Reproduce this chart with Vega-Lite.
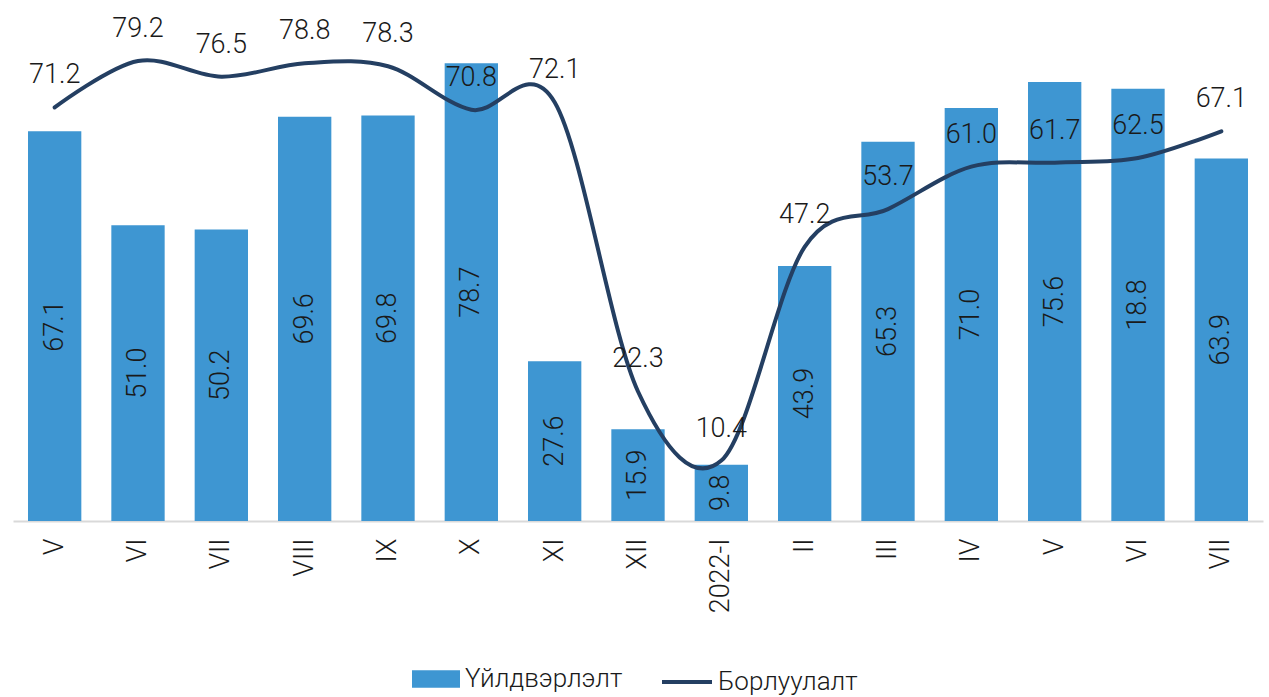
{
  "$schema": "https://vega.github.io/schema/vega-lite/v6.json",
  "width": 1250,
  "height": 521,
  "autosize": {"type": "none"},
  "padding": {"left": 13, "top": 0, "right": 6, "bottom": 176},
  "background": "white",
  "config": {
    "view": {"stroke": null},
    "font": "Roboto",
    "text": {"font": "Roboto"}
  },
  "data": {
    "values": [
      {"period": "2021-V", "prod": 67.1, "prodLabel": "67.1", "sales": 71.2},
      {"period": "2021-VI", "prod": 50.9, "prodLabel": "51.0", "sales": 79.2},
      {"period": "2021-VII", "prod": 50.2, "prodLabel": "50.2", "sales": 76.5},
      {"period": "2021-VIII", "prod": 69.6, "prodLabel": "69.6", "sales": 78.8},
      {"period": "2021-IX", "prod": 69.8, "prodLabel": "69.8", "sales": 78.3},
      {"period": "2021-X", "prod": 78.8, "prodLabel": "78.7", "sales": 70.8},
      {"period": "2021-XI", "prod": 27.5, "prodLabel": "27.6", "sales": 72.1},
      {"period": "2021-XII", "prod": 15.8, "prodLabel": "15.9", "sales": 22.3},
      {"period": "2022-I", "prod": 9.7, "prodLabel": "9.8", "sales": 10.4},
      {"period": "2022-II", "prod": 43.9, "prodLabel": "43.9", "sales": 47.2},
      {"period": "2022-III", "prod": 65.3, "prodLabel": "65.3", "sales": 53.7},
      {"period": "2022-IV", "prod": 71.1, "prodLabel": "71.0", "sales": 61.0},
      {"period": "2022-V", "prod": 75.6, "prodLabel": "75.6", "sales": 61.7},
      {"period": "2022-VI", "prod": 74.4, "prodLabel": "18.8", "sales": 62.5},
      {"period": "2022-VII", "prod": 62.4, "prodLabel": "63.9", "sales": 67.1}
    ]
  },
  "encoding": {
    "x": {
      "field": "period",
      "type": "nominal",
      "sort": null,
      "scale": {"paddingInner": 0.36, "paddingOuter": 0.18},
      "axis": {
        "title": null,
        "labelExpr": "datum.value == '2022-I' ? '2022-I' : split(datum.value, '-')[1]",
        "labelAngle": 270,
        "labelFont": "Roboto",
        "labelFontWeight": 300,
        "labelFontSize": 27,
        "labelColor": "#1a1a1a",
        "labelPadding": 17,
        "ticks": false,
        "tickSize": 0,
        "domainColor": "#d9d9d9",
        "domainWidth": 2,
        "grid": false
      }
    }
  },
  "layer": [
    {
      "mark": {"type": "bar", "color": "#3E96D2"},
      "encoding": {
        "y": {"field": "prod", "type": "quantitative", "scale": {"domain": [0, 89.7], "nice": false}, "axis": null},
        "color": {
          "datum": "Үйлдвэрлэлт",
          "scale": {"range": ["#3E96D2"]},
          "legend": {
            "title": null,
            "orient": "none",
            "legendX": 399,
            "legendY": 655,
            "symbolType": "M-1,-0.36L1,-0.36L1,0.36L-1,0.36Z",
            "symbolSize": 2304,
            "symbolStrokeWidth": 0,
            "labelFont": "Roboto",
            "labelFontWeight": 300,
            "labelFontSize": 26,
            "labelColor": "#1a1a1a",
            "labelOffset": 5,
            "labelLimit": 400
          }
        }
      }
    },
    {
      "transform": [{"calculate": "datum.prod / 2", "as": "mid"}],
      "mark": {"type": "text", "angle": 270, "align": "center", "baseline": "middle", "font": "Roboto", "fontWeight": 300, "fontSize": 27, "color": "#1a1a1a"},
      "encoding": {
        "y": {"field": "mid", "type": "quantitative", "scale": {"domain": [0, 89.7], "nice": false}},
        "text": {"field": "prodLabel"}
      }
    },
    {
      "mark": {"type": "line", "interpolate": "cardinal", "strokeWidth": 4, "strokeCap": "round"},
      "encoding": {
        "y": {"field": "sales", "type": "quantitative", "scale": {"domain": [0, 89.7], "nice": false}},
        "stroke": {
          "datum": "Борлуулалт",
          "scale": {"range": ["#243F62"]},
          "legend": {
            "title": null,
            "orient": "none",
            "legendX": 647,
            "legendY": 655,
            "symbolType": "stroke",
            "symbolSize": 2500,
            "symbolStrokeWidth": 4,
            "labelFont": "Roboto",
            "labelFontWeight": 300,
            "labelFontSize": 26,
            "labelColor": "#1a1a1a",
            "labelOffset": 4,
            "labelLimit": 400
          }
        }
      }
    },
    {
      "mark": {"type": "text", "align": "center", "baseline": "middle", "dy": -32, "font": "Roboto", "fontWeight": 300, "fontSize": 27, "color": "#1a1a1a"},
      "encoding": {
        "y": {"field": "sales", "type": "quantitative", "scale": {"domain": [0, 89.7], "nice": false}},
        "text": {"field": "sales", "type": "quantitative", "format": ".1f"}
      }
    }
  ],
  "resolve": {"scale": {"color": "independent", "stroke": "independent"}}
}
